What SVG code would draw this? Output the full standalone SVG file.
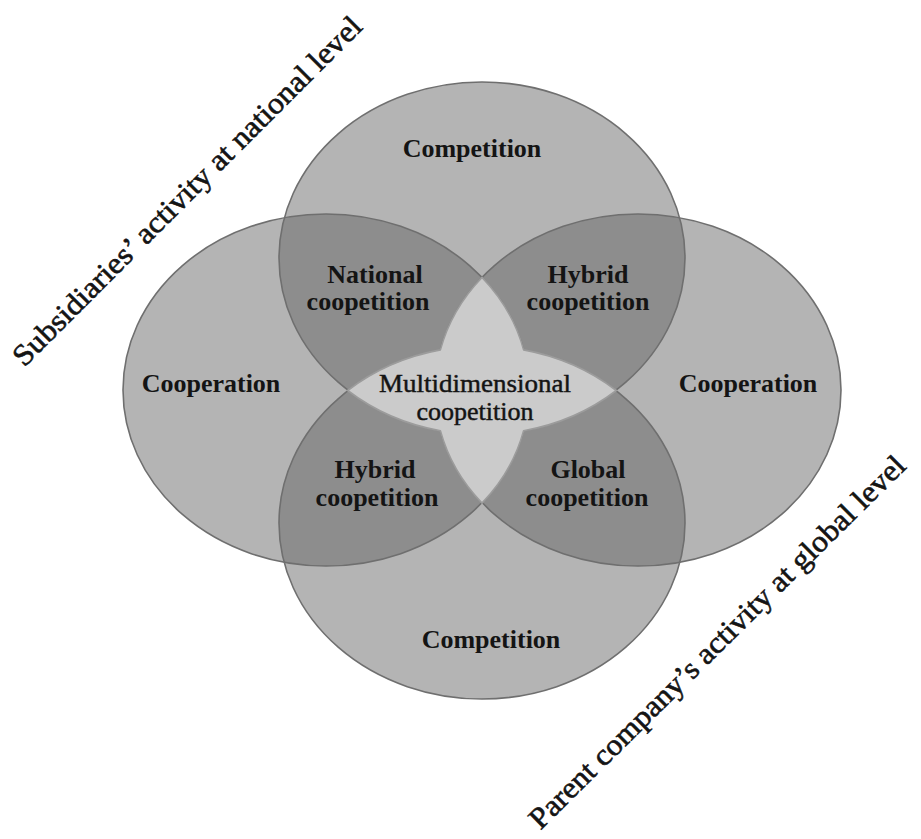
<svg xmlns="http://www.w3.org/2000/svg" width="921" height="839" viewBox="0 0 921 839">
  <style>
    .set-fill { fill: #636363; fill-opacity: 0.48; stroke: none; }
    .set-line { fill: none; stroke: #6f6f6f; stroke-width: 1.6; }
    .core { fill: #cbcbcb; stroke: #9c9c9c; stroke-width: 1.6; stroke-linejoin: round; }
    .lbl { font-family: "Liberation Serif", "Times New Roman", serif; font-weight: bold; font-size: 26px; fill: #141414; text-anchor: middle; }
    .lbl-reg { font-family: "Liberation Serif", "Times New Roman", serif; font-size: 26px; fill: #141414; stroke: #141414; stroke-width: 0.45; text-anchor: middle; }
    .axis { font-family: "Liberation Serif", "Times New Roman", serif; font-size: 30px; fill: #141414; stroke: #141414; stroke-width: 0.6; text-anchor: middle; }
  </style>
  <defs>
    <ellipse id="e-top" cx="482" cy="258" rx="203" ry="176"/>
    <ellipse id="e-bottom" cx="482" cy="523" rx="203" ry="176"/>
    <ellipse id="e-left" cx="326" cy="390" rx="203" ry="176"/>
    <ellipse id="e-right" cx="638" cy="390" rx="203" ry="176"/>
  </defs>

  <rect width="921" height="839" fill="#ffffff"/>

  <!-- translucent set fills: overlaps darken -->
  <g id="sets">
    <g id="set-top"><use href="#e-top" class="set-fill"/></g>
    <g id="set-left"><use href="#e-left" class="set-fill"/></g>
    <g id="set-right"><use href="#e-right" class="set-fill"/></g>
    <g id="set-bottom"><use href="#e-bottom" class="set-fill"/></g>
  </g>

  <!-- set outlines -->
  <g id="connectors">
    <use href="#e-top" class="set-line"/>
    <use href="#e-left" class="set-line"/>
    <use href="#e-right" class="set-line"/>
    <use href="#e-bottom" class="set-line"/>
  </g>

  <!-- central region covered by three or more sets -->
  <g id="core">
    <path class="core" d="M482,277.4 A203,176 0 0 0 440.4,349.9 A203,176 0 0 0 347.7,390.5 A203,176 0 0 0 440.4,430.8 A203,176 0 0 0 482,503.1 A203,176 0 0 0 523.6,430.8 A203,176 0 0 0 616.3,390.5 A203,176 0 0 0 523.6,349.9 A203,176 0 0 0 482,277.4 Z"/>
  </g>

  <g id="label-top"><text class="lbl" x="472" y="157">Competition</text></g>
  <g id="label-bottom"><text class="lbl" x="491" y="648">Competition</text></g>
  <g id="label-left"><text class="lbl" x="211" y="392">Cooperation</text></g>
  <g id="label-right"><text class="lbl" x="748" y="392">Cooperation</text></g>

  <g id="label-national">
    <text class="lbl" x="375" y="283">National</text>
    <text class="lbl" x="368" y="310">coopetition</text>
  </g>
  <g id="label-hybrid-top">
    <text class="lbl" x="588" y="283">Hybrid</text>
    <text class="lbl" x="588" y="310">coopetition</text>
  </g>
  <g id="label-hybrid-bottom">
    <text class="lbl" x="375" y="478">Hybrid</text>
    <text class="lbl" x="377" y="506">coopetition</text>
  </g>
  <g id="label-global">
    <text class="lbl" x="588" y="478">Global</text>
    <text class="lbl" x="587" y="506">coopetition</text>
  </g>
  <g id="label-multi">
    <text class="lbl-reg" x="475" y="392" textLength="192" lengthAdjust="spacingAndGlyphs">Multidimensional</text>
    <text class="lbl-reg" x="475" y="420">coopetition</text>
  </g>

  <g id="axis-national">
    <text class="axis" transform="translate(194,198) rotate(-45)" textLength="480" lengthAdjust="spacingAndGlyphs">Subsidiaries’ activity at national level</text>
  </g>
  <g id="axis-global">
    <text class="axis" transform="translate(724,649) rotate(-44.7)" textLength="516" lengthAdjust="spacingAndGlyphs">Parent company’s activity at global level</text>
  </g>
</svg>
